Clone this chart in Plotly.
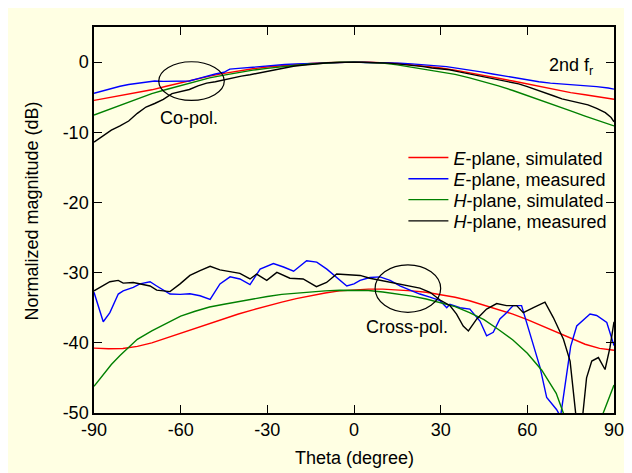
import plotly.graph_objects as go

# ---------------- Co-polar data ----------------
theta_sim_co = [-90, -85, -80, -75, -70, -65, -60, -55, -50, -45, -40, -35, -30, -25, -20, -15, -10, -5,
                0, 5, 10, 15, 20, 25, 30, 35, 40, 45, 50, 55, 60, 65, 70, 75, 80, 85, 90]
e_sim_co = [-5.45, -5.1, -4.7, -4.3, -3.95, -3.45, -2.95, -2.45, -2.0, -1.6, -1.25, -0.95, -0.7, -0.5, -0.35,
            -0.2, -0.1, -0.02, 0.0, -0.02, -0.08, -0.2, -0.4, -0.6, -0.85, -1.15, -1.5, -1.9, -2.3, -2.7,
            -3.1, -3.55, -4.0, -4.35, -4.65, -5.0, -5.3]
h_sim_co = [-7.55, -6.8, -5.95, -5.2, -4.5, -3.9, -3.35, -2.85, -2.25, -1.85, -1.45, -1.15, -0.9, -0.65,
            -0.45, -0.28, -0.12, -0.03, 0.0, -0.05, -0.15, -0.4, -0.75, -1.1, -1.4, -1.75, -2.25, -2.8,
            -3.4, -4.05, -4.75, -5.45, -6.2, -6.95, -7.7, -8.4, -9.1]

theta_e_meas_co = [-90, -87, -84, -81, -78, -75, -72, -69, -66, -63, -60, -57, -54, -51, -48, -45, -43, -40,
                   -36, -32, -28, -24, -20, -16, -12, -8, -4, 0, 4, 8, 12, 16, 20, 24, 28, 32, 36, 40, 44,
                   48, 52, 56, 60, 64, 68, 72, 76, 80, 84, 88, 90]
e_meas_co = [-4.45, -4.1, -3.8, -3.45, -3.2, -3.0, -2.8, -2.7, -2.75, -2.7, -2.75, -2.7, -2.35, -2.0, -1.7,
             -1.45, -1.0, -0.9, -0.75, -0.55, -0.45, -0.35, -0.25, -0.2, -0.1, -0.1, -0.05, 0.0, -0.05,
             -0.05, -0.1, -0.15, -0.25, -0.35, -0.5, -0.65, -0.9, -1.1, -1.4, -1.7, -2.0, -2.3, -2.55,
             -2.8, -3.0, -3.1, -3.2, -3.3, -3.5, -3.7, -3.85]

theta_h_meas_co = [-90, -87, -84, -81, -78, -75, -72, -69, -66, -63, -60, -57, -54, -51, -48, -45, -42, -39,
                   -36, -33, -30, -27, -24, -21, -18, -15, -12, -9, -6, -3, 0, 3, 6, 9, 12, 15, 18, 21, 24,
                   27, 30, 33, 36, 39, 42, 45, 48, 51, 54, 57, 60, 63, 66, 69, 72, 75, 78, 81, 84, 87, 89, 90]
h_meas_co = [-11.4, -10.6, -9.7, -9.1, -8.4, -7.3, -6.4, -5.9, -5.3, -4.5, -4.2, -3.9, -3.4, -3.0, -2.8,
             -2.5, -2.2, -2.0, -1.8, -1.55, -1.3, -1.1, -0.85, -0.6, -0.45, -0.3, -0.2, -0.1, -0.05, 0.0,
             0.0, -0.02, -0.05, -0.1, -0.15, -0.25, -0.35, -0.5, -0.65, -0.85, -0.95, -1.1, -1.35, -1.6,
             -1.85, -2.1, -2.35, -2.6, -2.85, -3.1, -3.5, -3.9, -4.3, -4.8, -5.25, -5.5, -5.8, -6.1, -6.6,
             -7.2, -7.9, -8.5]

# ---------------- Cross-polar data ----------------
theta_e_sim_x = [-90, -85, -80, -75, -70, -65, -60, -55, -50, -45, -40, -35, -30, -25, -20, -15, -10, -5,
                 0, 5, 10, 15, 20, 25, 30, 35, 40, 45, 50, 55, 60, 65, 70, 75, 80, 85, 90]
e_sim_x = [-40.75, -40.85, -40.8, -40.5, -40.0, -39.3, -38.6, -37.9, -37.2, -36.5, -35.9, -35.3, -34.7,
           -34.2, -33.7, -33.25, -32.9, -32.6, -32.45, -32.35, -32.35, -32.45, -32.6, -32.8, -33.1, -33.5,
           -34.0, -34.6, -35.2, -35.9, -36.7, -37.6, -38.5, -39.4, -40.2, -40.8, -41.05]

theta_h_sim_x = [-90, -87, -84, -81, -78, -75, -70, -65, -60, -55, -50, -45, -40, -35, -30, -25, -20, -15,
                 -10, -5, 0, 5, 10, 15, 20, 25, 30, 35, 40, 45, 50, 55, 60, 65, 70, 73, 76, 79, 83, 86,
                 88, 90]
h_sim_x = [-46.2, -44.6, -43.1, -41.8, -40.6, -39.5, -38.3, -37.2, -36.2, -35.5, -34.9, -34.5, -34.1,
           -33.7, -33.4, -33.1, -32.9, -32.7, -32.6, -32.5, -32.5, -32.55, -32.75, -33.0, -33.35, -33.75,
           -34.25, -34.85, -35.7, -36.7, -38.1, -39.6, -41.5, -43.9, -47.2, -50.5, -54.0, -56.0, -53.0,
           -50.3, -48.2, -46.0]

theta_e_meas_x = [-90, -86.8, -84.5, -81.6, -79.9, -76.4, -74.1, -70.6, -68.3, -63.7, -60.2, -56.8, -53.3,
                  -49.8, -46.4, -42.9, -39.5, -36, -32.5, -27.9, -24.4, -20.9, -16.4, -12.9, -9.4, -5.9,
                  -2.5, 0, 2.1, 5.5, 9.0, 12.5, 15.9, 19.4, 22.8, 26.3, 29.8, 32.1, 33.2, 36.7, 40.1, 43.6,
                  45.9, 48.2, 50.5, 52.8, 55.1, 58.0, 60.9, 64.4, 66.7, 70.1, 71.5, 73.5, 75.0, 77.1, 81.7,
                  84.0, 87.5, 90]
e_meas_x = [-32.8, -37.0, -35.7, -33.05, -32.6, -32.1, -31.6, -31.3, -31.9, -33.05, -33.1, -33.0, -33.3,
            -33.8, -31.6, -30.6, -30.9, -31.7, -29.5, -28.7, -29.2, -29.8, -28.3, -28.5, -29.5, -30.7,
            -31.9, -31.6, -31.1, -30.7, -30.6, -31.1, -31.9, -32.5, -33.05, -33.5, -34.0, -35.0, -34.5,
            -35.0, -35.2, -36.9, -39.0, -38.5, -36.6, -35.7, -34.7, -34.7, -38.8, -43.5, -47.8, -49.5,
            -50.5, -45.0, -40.5, -37.6, -35.9, -36.1, -37.1, -40.4]

theta_h_meas_x = [-90, -86.8, -84.5, -81.6, -79.9, -76.4, -74.1, -70.6, -68.3, -63.7, -60.2, -56.8, -53.3,
                  -49.8, -46.4, -42.9, -39.5, -36, -33.7, -30.2, -26.7, -22.2, -17.6, -13, -9.5, -6, -2.5,
                  2.1, 5.5, 9.0, 12.5, 15.9, 19.4, 22.8, 26.3, 29.8, 33.2, 35.5, 37.8, 39.6, 42.5, 45.9,
                  49.4, 52.8, 56.3, 58.6, 62.1, 66.1, 69.0, 72.5, 74.8, 77.5, 78.5, 80.5, 82.3, 84.6, 86.9,
                  88.6, 90]
h_meas_x = [-32.6, -31.9, -31.3, -31.1, -31.5, -31.4, -31.6, -31.9, -32.5, -32.7, -31.6, -30.4, -29.7,
            -29.1, -29.6, -29.8, -30.1, -30.9, -30.2, -31.1, -29.96, -30.8, -30.9, -32.0, -31.4, -30.2,
            -30.3, -30.4, -30.8, -31.1, -31.4, -31.6, -31.9, -32.2, -32.8, -33.9, -34.7, -35.9, -37.6,
            -38.3, -36.6, -35.2, -34.4, -34.7, -34.7, -35.7, -35.0, -34.2, -36.4, -39.5, -42.6, -53.0,
            -53.0, -45.0, -42.6, -42.1, -43.8, -40.7, -37.0]

x_ticks = [-90, -60, -30, 0, 30, 60, 90]
y_ticks = [-50, -40, -30, -20, -10, 0]

RED, BLUE, GREEN, BLACK = "#ff0000", "#0000ff", "#008000", "#000000"
FONT = "Arial, Liberation Sans, sans-serif"
FS = 18

series = [
    ("<i>E</i>-plane, simulated", RED, theta_sim_co, e_sim_co, theta_e_sim_x, e_sim_x),
    ("<i>E</i>-plane, measured", BLUE, theta_e_meas_co, e_meas_co, theta_e_meas_x, e_meas_x),
    ("<i>H</i>-plane, simulated", GREEN, theta_sim_co, h_sim_co, theta_h_sim_x, h_sim_x),
    ("<i>H</i>-plane, measured", BLACK, theta_h_meas_co, h_meas_co, theta_h_meas_x, h_meas_x),
]
legend_ids = ["legend", "legend2", "legend3", "legend4"]
legend_rows = [0.661, 0.606, 0.552, 0.497]

fig = go.Figure()
for (name, color, tc, vc, tx, vx), lid in zip(series, legend_ids):
    fig.add_trace(go.Scatter(x=tc + [None] + tx, y=vc + [None] + vx, mode="lines", name=name,
                             legend=lid, line=dict(color=color, width=1.4), connectgaps=False))

axis_common = dict(showline=True, linecolor="black", linewidth=1.5, mirror="ticks", ticks="inside",
                   ticklen=8, tickwidth=1.3, tickcolor="black", showgrid=False, zeroline=False,
                   tickfont=dict(family=FONT, size=FS, color="black"))

fig.update_xaxes(range=[-90, 90], tickvals=x_ticks, ticktext=[str(v) for v in x_ticks], **axis_common)
fig.update_yaxes(range=[-50, 5], tickvals=y_ticks, ticktext=[str(v) for v in y_ticks], **axis_common)

CREAM = "#FFFFE3"
legend_layout = {}
for lid, ly in zip(legend_ids, legend_rows):
    legend_layout[lid] = dict(x=0.595, y=ly, xanchor="left", yanchor="middle", bgcolor="rgba(0,0,0,0)",
                              font=dict(family=FONT, size=18, color="black"), itemwidth=40)

fig.update_layout(
    width=632, height=473,
    margin=dict(l=86, r=26, t=19, b=68),
    paper_bgcolor=CREAM, plot_bgcolor=CREAM,
    showlegend=True,
    font=dict(family=FONT, color="black"),
    shapes=[
        dict(type="circle", xref="x", yref="y", x0=-67.6, x1=-44.9, y0=-5.45, y1=0.05,
             line=dict(color="black", width=1.2)),
        dict(type="circle", xref="x", yref="y", x0=7.3, x1=30.0, y0=-35.65, y1=-28.9,
             line=dict(color="black", width=1.2)),
    ],
    annotations=[
        dict(text="2nd f<sub>r</sub>", x=75.0, y=-0.6, xref="x", yref="y", showarrow=False,
             font=dict(family=FONT, size=FS, color="black")),
        dict(text="Co-pol.", x=-57.1, y=-8.0, xref="x", yref="y", showarrow=False,
             font=dict(family=FONT, size=FS, color="black")),
        dict(text="Cross-pol.", x=18.3, y=-37.7, xref="x", yref="y", showarrow=False,
             font=dict(family=FONT, size=FS, color="black")),
        dict(text="Theta (degree)", x=0.5, y=-0.117, xref="paper", yref="paper", showarrow=False,
             xanchor="center", yanchor="middle", font=dict(family=FONT, size=FS, color="black")),
        dict(text="Normalized magnitude (dB)", x=-0.121, y=0.522, xref="paper", yref="paper",
             showarrow=False, textangle=-90, xanchor="center", yanchor="middle",
             font=dict(family=FONT, size=FS, color="black")),
    ],
    **legend_layout,
)

fig.write_html("out.html")
